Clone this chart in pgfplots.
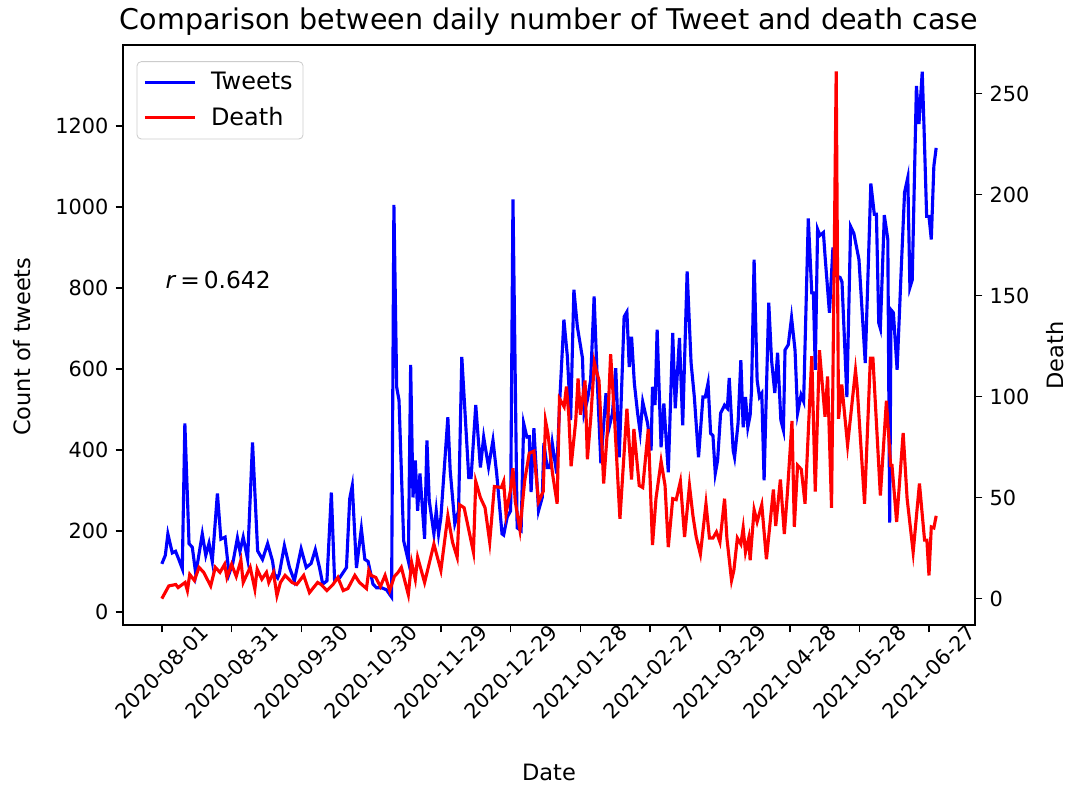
\documentclass[border=0pt]{standalone}
\usepackage{fontspec}
\setmainfont{DejaVu Sans}
\usepackage{pgfplots}
\pgfplotsset{compat=1.18}
\usepackage{pgfplotstable}

\pgfplotstableread{
day tweets
0 119
1.5 140
2.6 193
4.5 146
5.9 150
7.3 130
8.8 107
9.9 466
11.7 169
13.1 160
14.6 94
17.4 193
18.9 140
20.3 170
21.7 125
23.9 293
25.4 180
27.2 185
28.9 94
30.5 120
32.5 183
33.6 150
35 185
36.9 130
39 419
41.2 151
43.3 130
45.5 169
47.6 126
48.4 94
49.8 84
50.5 94
52.7 164
54.9 110
57 77
59.9 156
62.1 110
64.2 120
66 154
67.8 110
69.2 69
71 77
72.9 295
74.3 77
76.5 85
79.4 110
80.8 280
81.9 312
83.7 109
85.8 206
87.3 130
88.7 125
90.8 69
92.3 60
94.5 60
96.6 55
98.8 37
99.8 1005
101 555
102 523
104 176
106 126
107 610
108 283
109 374
110 250
111 342
113 181
114 424
115 275
117 193
118 250
119 193
120 233
123 481
124 350
126 218
127.6 250
129 630
132 332
133 332
135 511
137 357
138.4 432
140.5 358
142.4 424
144 342
146.3 193
147 190
148.5 234
150 250
151 1019
152.8 208
154.5 201
155.6 466
157 432
158 433
158.8 296
160 454
162 250
163.6 283
164.3 417
165.7 357
166.9 357
167.9 417
169.8 342
171.2 531
172.9 722
174.4 631
175.8 474
177.2 796
178.7 704
180.9 627
181.6 491
183 523
184.4 573
185.9 779
187.3 565
188.8 367
191 540
192.4 457
193.8 491
195.2 602
196.7 382
198.8 729
200 741
201 605
202 680
203.2 565
204.6 491
205.7 444
206.8 519
208.9 466
210.4 399
211 556
212.1 511
213 697
214.7 407
215.9 515
217.8 345
219.7 689
220.8 503
222.6 677
224 461
225.9 841
227.6 615
229 531
230.8 382
232.7 531
233.7 531
234.9 565
236 441
237 436
238 342
239 374
240.3 491
242 511
243.2 503
244 578
245.7 399
246.3 382
247.8 466
249 622
250 456
251 531
252 456
253 486
253.6 548
254.7 870
256 573
257 531
258 540
259 325
260 548
261 764
262.2 622
263.6 541
264.8 640
266.2 474
267.3 449
268 647
269.4 660
270.8 727
272.3 647
273.4 491
274.9 536
276 520
278 972
279.5 788
280.2 788
281 598
282 945
283 930
284.5 937
285.2 880
287.1 739
288.6 900
290 830
291.7 826
292.5 815
294.6 531
296.2 952
297.6 935
299.8 870
302.5 615
304.9 1058
306.4 982
307.3 982
308.3 714
309 700
310.7 980
312.2 920
313 221
313.6 746
314.6 739
316.2 598
318 850
319.4 1036
320.8 1073
321.7 801
322.7 820
324.5 1299
325.6 1205
327 1334
327.7 1210
328.9 977
329.9 977
330.9 920
332 1101
333 1146
}\tweets

\pgfplotstableread{
day death
0 0
3 6.3
6 7
7 5.5
10 8
11 4
12 12
14 9
16 15.5
18 13
21 6.3
23 15.5
25 13
27 17
28 10.5
30 17
32 11
34 19
35 8
38 15.5
40 4.7
41 14.6
43 9.6
45 13
46 8
48 13
49.5 1.5
51 8
53 11.5
56 8
58 7
61 11.5
63.5 3
67 8
68.5 7
71 4
73.6 7
75.7 10.5
78 4
80 5
83 11.5
85 8
88 5
89 14
90 11.5
92 10.5
94 6
96 11.5
98 4
100 11
101.6 13
103 15.5
106 2
107.4 18
109 9.6
110 20.5
113 8
117 27
120 14
123 41
125 28
127 20.5
128 46.5
130 45
134 23
135 58
137 50
139 45
141 28
143 55.5
146 55
147 58
148 42
150 54
151 64.5
152 48
154 34
156 58
158 72
160 73
162 48
164 53
165 88
166 82
168 62
170 47
171 99
173 95
174 105
175 91
176 65.5
178 88
179 109
180 91
182 108
183 69
184.5 90
186 117
186.6 114
188 108
190 57
191.6 83
193 121
194.5 93
197 39.5
200 94
202 59
203 84
205.3 56
206.8 55
209.2 84
211 26.5
212.5 49.5
214.7 68
216.4 56
217.8 25.5
219.7 49.5
221.2 49
223 58
224.8 30.5
226.9 56
228.4 41
229.8 30.5
231.6 22
234 47
235.5 30
237 30
238.5 33
240 28
242 49.5
243 30
245 9
246 14
247.5 30
249 27
250 35
251 23
252.4 30
253 19
254.7 44
256 38
258 46.5
260 19.5
263 54
264 36
266 59
267.7 32
269 52
271 88
272 35.5
273.4 66
275 64
276.6 47
279.5 120
281 53
282.8 123
285.2 90
286.3 110
288 45
290 261
291 89
292.4 106
294.9 76
298.3 113
299 105
302.2 47
304.7 119
305.8 119
309 51
311.6 98
313.4 66
314 66
316 38
318.8 82
320.5 49.5
323.1 23
325.8 57
328 29
329 29
329.9 11.5
330.9 35.5
332 35
333 41
}\deaths

\pgfplotsset{
  common/.style={
    scale only axis,
    width=408.96pt, height=278.4pt,
    at={(0,0)}, anchor=south west,
    xmin=-16.7, xmax=349.7,
    axis line style={line width=0.8pt},
    every tick/.style={line width=0.8pt, black},
    major tick length=3.5pt,
    tick align=outside,
    /pgf/number format/assume math mode=true,
    /pgf/number format/1000 sep={},
    scaled y ticks=false,
    ticklabel style={font=\fontsize{10}{12}\selectfont},
    label style={font=\fontsize{10.8}{13}\selectfont},
  }
}

\begin{document}
\begin{tikzpicture}
\begin{axis}[common,
  name=main,
  tick pos=left,
  ymin=-32, ymax=1400,
  ytick={0,200,...,1200},
  xtick={0,30,...,330},
  xticklabels={2020-08-01,2020-08-31,2020-09-30,2020-10-30,2020-11-29,2020-12-29,2021-01-28,2021-02-27,2021-03-29,2021-04-28,2021-05-28,2021-06-27},
  xticklabel style={anchor=center, yshift=-19pt, rotate=45},
  xlabel={Date},
  xlabel style={at={(axis description cs:0.5,-0.255)}, anchor=center},
  ylabel={Count of tweets},
  ylabel style={at={(axis description cs:-0.1185,0.48)}, anchor=center},
  legend style={at={(axis description cs:0.016,0.972)}, anchor=north west,
    draw=black!20, rounded corners=2pt, font=\fontsize{11.5}{13.8}\selectfont,
    inner xsep=3pt, inner ysep=3pt, row sep=3pt,
    /tikz/every odd column/.append style={column sep=5pt}},
  legend cell align=left,
  legend image code/.code={\draw[#1] (0pt,0pt) -- (24pt,0pt);},
]
\addplot[blue, line width=1.5pt] table[x=day, y=tweets]{\tweets};
\addlegendentry{Tweets}
\addlegendimage{red, line width=1.5pt}
\addlegendentry{Death}
\node[anchor=west, font=\fontsize{11.2}{13}\selectfont] at (axis cs:-1.5,821) {\textit{r}\,=\,0.642};
\end{axis}
\begin{axis}[common,
  axis x line=none,
  axis y line*=right,
  ymin=-13.05, ymax=274.05,
  ytick={0,50,...,250},
  ylabel={Death},
  ylabel style={at={(axis description cs:1.094,0.465)}, anchor=center},
]
\addplot[red, line width=1.5pt] table[x=day, y=death]{\deaths};
\end{axis}
\node[font=\fontsize{13.7}{16}\selectfont] at ([yshift=11pt]main.north) {Comparison between daily number of Tweet and death case};
\pgfresetboundingbox
\useasboundingbox (-59.04pt,-78.72pt) rectangle (454.56pt,300pt);
\end{tikzpicture}
\end{document}
